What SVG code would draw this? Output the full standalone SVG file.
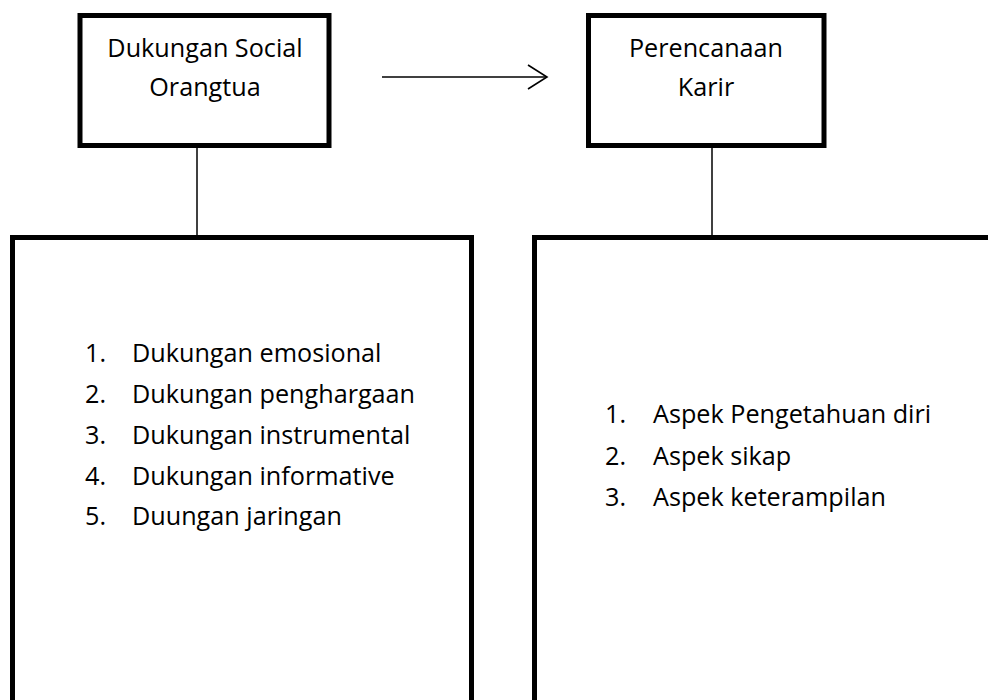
<svg xmlns="http://www.w3.org/2000/svg" width="988" height="700" viewBox="0 0 988 700">
<defs>
<style>
.box{fill:#fff;stroke:#000;stroke-width:5;stroke-linejoin:miter}
.ln{fill:none;stroke:#000;stroke-width:1.5}
.t{font-family:"Open Sans","Noto Sans","Liberation Sans",sans-serif;font-size:25.2px;fill:#000}
.c{text-anchor:middle}
</style>
<marker id="arr" viewBox="0 0 22 26" refX="20" refY="13" markerWidth="22" markerHeight="26" markerUnits="userSpaceOnUse" orient="auto">
<path d="M1,1 L20,13 L1,25" fill="none" stroke="#000" stroke-width="1.6"/>
</marker>
</defs>
<rect width="988" height="700" fill="#fff"/>
<g id="connectors">
<line class="ln" x1="197" y1="147" x2="197" y2="236"/>
<line class="ln" x1="712" y1="147" x2="712" y2="236"/>
<line class="ln" x1="382" y1="77" x2="547" y2="77" marker-end="url(#arr)"/>
</g>
<g id="node-dukungan">
<rect class="box" x="80" y="15.5" width="249" height="130"/>
<text class="t c" x="205" y="57">Dukungan Social</text>
<text class="t c" x="205" y="96">Orangtua</text>
</g>
<g id="node-perencanaan">
<rect class="box" x="588.5" y="15.5" width="235.5" height="130"/>
<text class="t c" x="706" y="57">Perencanaan</text>
<text class="t c" x="706" y="96">Karir</text>
</g>
<g id="node-dukungan-list">
<rect class="box" x="12.5" y="237.5" width="459" height="480"/>
<text class="t" x="85" y="362">1.</text><text class="t" x="132" y="362">Dukungan emosional</text>
<text class="t" x="85" y="403">2.</text><text class="t" x="132" y="403">Dukungan penghargaan</text>
<text class="t" x="85" y="444">3.</text><text class="t" x="132" y="444">Dukungan instrumental</text>
<text class="t" x="85" y="485">4.</text><text class="t" x="132" y="485">Dukungan informative</text>
<text class="t" x="85" y="525">5.</text><text class="t" x="132" y="525">Duungan jaringan</text>
</g>
<g id="node-perencanaan-list">
<rect class="box" x="534.5" y="237.5" width="480" height="480"/>
<text class="t" x="605" y="423">1.</text><text class="t" x="653" y="423">Aspek Pengetahuan diri</text>
<text class="t" x="605" y="465">2.</text><text class="t" x="653" y="465">Aspek sikap</text>
<text class="t" x="605" y="506">3.</text><text class="t" x="653" y="506">Aspek keterampilan</text>
</g>
</svg>
